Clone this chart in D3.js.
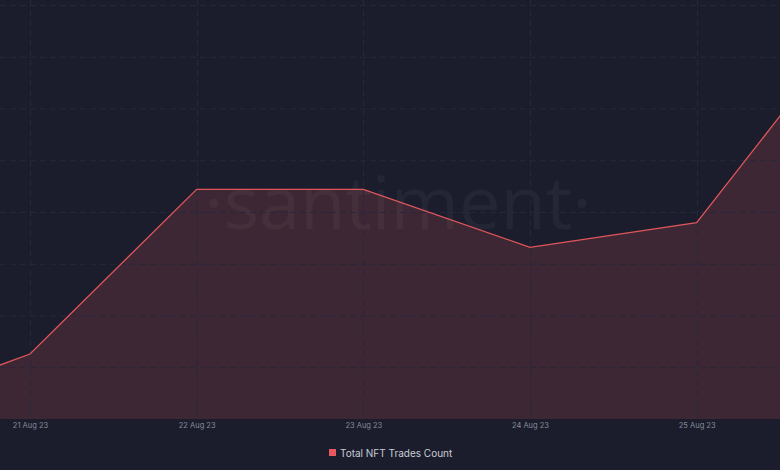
<!DOCTYPE html>
<html>
<head>
<meta charset="utf-8">
<script src="https://cdn.jsdelivr.net/npm/d3@7"></script>
<style>
  body { margin: 0; background: #1b1d2c; }
  svg { display: block; }
</style>
</head>
<body>
<script>
// daily NFT trade counts (scale, no axis labels shown)
var dates = ['2023-08-20', '2023-08-21', '2023-08-22', '2023-08-23', '2023-08-24', '2023-08-25', '2023-08-26'];
var counts = [70, 1256, 4439, 4439, 3318, 3793, 7915];
var tickDates = ['2023-08-21', '2023-08-22', '2023-08-23', '2023-08-24', '2023-08-25'];
var seriesName = 'Total NFT Trades Count';

var w = 780, h = 470;
var plotTop = 5, plotBottom = 419;

var parse = d3.utcParse('%Y-%m-%d');
var data = dates.map(function(d, i) { return { date: parse(d), value: counts[i] }; });
var ticks = tickDates.map(parse);

var day = 864e5;
var xScale = d3.scaleUtc()
  .domain([new Date(parse('2023-08-21') - day * 30 / 166.67), new Date(+parse('2023-08-25') + day / 2)])
  .range([0, w]);

var yScale = d3.scaleLinear()
  .domain([0, 8000])
  .range([plotBottom, plotTop]);

var svg = d3.select('body').append('svg')
  .attr('width', w)
  .attr('height', h);

svg.append('rect')
  .attr('width', w).attr('height', h)
  .attr('fill', '#1b1d2c');

svg.append('defs').append('clipPath')
  .attr('id', 'plot')
  .append('rect')
  .attr('x', 0).attr('y', 0)
  .attr('width', w).attr('height', plotBottom);

// watermark
svg.append('text')
  .attr('x', 398).attr('y', 229)
  .attr('text-anchor', 'middle')
  .attr('font-family', 'Open Sans, sans-serif')
  .attr('font-weight', 400)
  .attr('font-size', 74)
  .attr('fill', 'rgba(255,255,255,0.045)')
  .text('·santiment·');

var g = svg.append('g').attr('clip-path', 'url(#plot)');

// area + line
var area = d3.area()
  .x(function(d) { return xScale(d.date); })
  .y0(plotBottom)
  .y1(function(d) { return yScale(d.value); });

var line = d3.line()
  .x(function(d) { return xScale(d.date); })
  .y(function(d) { return yScale(d.value); });

g.append('path')
  .datum(data)
  .attr('d', area)
  .attr('fill', 'rgba(224,86,91,0.18)');

// grid
g.append('g')
  .selectAll('line')
  .data(yScale.ticks(8))
  .enter().append('line')
  .attr('x1', 0).attr('x2', w)
  .attr('y1', function(d) { return yScale(d) + 0.5; })
  .attr('y2', function(d) { return yScale(d) + 0.5; })
  .attr('stroke', '#25283a')
  .attr('stroke-dasharray', '6,4');

g.append('g')
  .selectAll('line')
  .data(ticks)
  .enter().append('line')
  .attr('x1', function(d) { return Math.round(xScale(d)) + 0.5; })
  .attr('x2', function(d) { return Math.round(xScale(d)) + 0.5; })
  .attr('y1', 0).attr('y2', plotBottom)
  .attr('stroke', '#25283a')
  .attr('stroke-dasharray', '6,4');

g.append('path')
  .datum(data)
  .attr('d', line)
  .attr('fill', 'none')
  .attr('stroke', '#e0565b')
  .attr('stroke-width', 1.3);

// x axis labels
var xAxis = d3.axisBottom(xScale)
  .tickValues(ticks)
  .tickSize(0)
  .tickPadding(4)
  .tickFormat(d3.utcFormat('%d %b %y'));

var ax = svg.append('g')
  .attr('transform', 'translate(0,' + plotBottom + ')')
  .call(xAxis);
ax.select('.domain').remove();
ax.selectAll('text')
  .attr('fill', '#868b9e')
  .attr('font-family', 'Inter, sans-serif')
  .attr('font-size', 7.5);

// legend
var legend = svg.append('g').attr('transform', 'translate(329,449)');
legend.append('rect')
  .attr('width', 7).attr('height', 7)
  .attr('fill', '#e8585c');
legend.append('text')
  .attr('x', 11).attr('y', 7.5)
  .attr('font-family', 'Inter, sans-serif')
  .attr('font-size', 10)
  .attr('fill', '#c9ccd6')
  .text(seriesName);
</script>
</body>
</html>
